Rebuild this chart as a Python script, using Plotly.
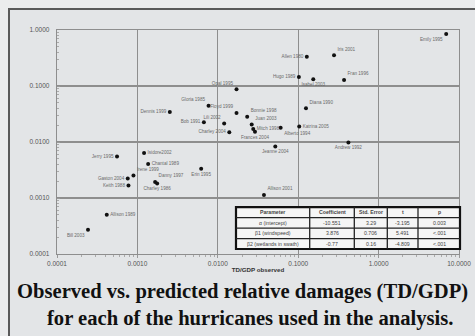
import plotly.graph_objects as go

# ---------------- data ----------------
names = ["Emily 1995", "Allen 1980", "Iris 2001", "Hugo 1989", "Isabel 2003", "Fran 1996",
         "Opal 1995", "Gloria 1985", "Dennis 1999", "Floyd 1999", "Bonnie 1998", "Bob 1991",
         "Lili 2002", "Charley 2004", "Juan 2003", "Mitch 1998", "Frances 2004", "Alberto 1994",
         "Diana 1990", "Katrina 2005", "Andrew 1992", "Jeanne 2004", "Allison 2001", "Erin 1995",
         "Jerry 1995", "Isidore2002", "Chantal 1989", "Irene 1999", "Gaston 2004", "Keith 1988",
         "Danny 1997", "Charley 1986", "Allison 1989", "Bill 2003"]
observed = [6.93, 0.128, 0.279, 0.102, 0.154, 0.372,
            0.0171, 0.00767, 0.00253, 0.0171, 0.0232, 0.00671,
            0.0120, 0.0139, 0.0264, 0.0276, 0.0290, 0.0605,
            0.125, 0.103, 0.421, 0.0519, 0.0375, 0.00621,
            0.000558, 0.00121, 0.00136, 0.000893, 0.000758, 0.000774,
            0.00166, 0.00176, 0.000416, 0.000243]
predicted = [0.849, 0.334, 0.354, 0.145, 0.132, 0.128,
             0.0877, 0.0442, 0.0345, 0.0331, 0.0281, 0.0226,
             0.0214, 0.0150, 0.0205, 0.0170, 0.0152, 0.0179,
             0.0402, 0.0189, 0.0098, 0.0083, 0.00113, 0.00333,
             0.00552, 0.00634, 0.00404, 0.00253, 0.00224, 0.00168,
             0.00193, 0.00182, 0.000504, 0.000272]
label_pos = ["bottom left", "middle left", "top right", "middle left", "bottom center", "top right",
             "top left", "top left", "middle left", "top left", "top right", "middle left",
             "top left", "middle left", "top right", "middle right", "bottom center", "bottom right",
             "top right", "middle right", "bottom center", "bottom center", "top right", "bottom center",
             "middle left", "middle right", "middle right", "top right", "middle left", "middle left",
             "top right", "bottom center", "middle right", "bottom left"]

tick_vals = [0.0001, 0.001, 0.01, 0.1, 1, 10]
x_tick_text = ["0.0001", "0.0010", "0.0100", "0.1000", "1.0000", "10.0000"]
y_tick_vals = [0.0001, 0.001, 0.01, 0.1, 1]
y_tick_text = ["0.0001", "0.0010", "0.0100", "0.1000", "1.0000"]

table_header = ["Parameter", "Coefficient", "Std. Error", "t", "p"]
table_params = ["α (intercept)", "β1 (windspeed)", "β2 (wetlands in swath)"]
table_coef = ["-10.551", "3.876", "-0.77"]
table_se = ["3.29", "0.706", "0.16"]
table_t = ["-3.195", "5.491", "-4.809"]
table_p = ["0.003", "<.001", "<.001"]

caption1 = "Observed vs. predicted relative damages (TD/GDP)"
caption2 = "for each of the hurricanes used in the analysis."

# ---------------- geometry helpers (pixels -> paper) ----------------
W, H = 475, 336
PL, PR, PT, PB = 57, 459, 30, 254.5


def px(x):
    return (x - PL) / (PR - PL)


def py(y):
    return (PB - y) / (PB - PT)


fig = go.Figure()
fig.add_trace(go.Scatter(
    x=observed, y=predicted, mode="markers+text", text=names,
    textposition=label_pos,
    textfont=dict(size=4.6, color="#6a6a6a", family="Arial, Liberation Sans, sans-serif"),
    marker=dict(size=4, color="#111111"),
    cliponaxis=False, showlegend=False, hoverinfo="skip",
))

grid_col = "#8e8e8e"
fig.update_xaxes(type="log", range=[-4, 1], tickvals=tick_vals, ticktext=x_tick_text,
                 automargin=False,
                 showgrid=True, gridcolor=grid_col, gridwidth=1.3,
                 showline=True, linecolor=grid_col, linewidth=1.3, mirror=True,
                 ticks="outside", ticklen=3, tickcolor="#999999",
                 minor=dict(ticks="outside", ticklen=2, tickcolor="#aaaaaa", dtick="D1", showgrid=False),
                 tickfont=dict(size=6.5, color="#555555", family="Arial, Liberation Sans, sans-serif"),
                 zeroline=False,
                 title=dict(text="<b>TD/GDP observed</b>", standoff=1,
                            font=dict(size=6.2, color="#333333", family="Arial, Liberation Sans, sans-serif")))
fig.update_yaxes(type="log", range=[-4, 0], tickvals=y_tick_vals, ticktext=y_tick_text,
                 automargin=False,
                 showgrid=True, gridcolor=grid_col, gridwidth=1.3,
                 showline=True, linecolor=grid_col, linewidth=1.3, mirror=True,
                 ticks="inside", ticklen=3, tickcolor="#999999",
                 minor=dict(ticks="inside", ticklen=2, tickcolor="#aaaaaa", dtick="D1", showgrid=False),
                 tickfont=dict(size=6.5, color="#555555", family="Arial, Liberation Sans, sans-serif"),
                 ticklabelstandoff=5,
                 zeroline=False)

shapes = []
# outer frame
shapes.append(dict(type="rect", xref="paper", yref="paper", layer="below",
                   x0=px(9), x1=px(490), y0=py(350), y1=py(9),
                   fillcolor="#e3e5e7", line=dict(color="#5a5a5a", width=2)))

# table
tx = [236, 309.7, 354.3, 387.3, 418, 460]
ty = [207.5, 218, 228.5, 239, 249.5]
shapes.append(dict(type="rect", xref="paper", yref="paper", x0=px(tx[0]), x1=px(tx[-1]),
                   y0=py(ty[-1]), y1=py(ty[0]), fillcolor="#f5f5f5", line=dict(color="#111111", width=2.2)))
for xv in tx[1:-1]:
    shapes.append(dict(type="line", xref="paper", yref="paper", x0=px(xv), x1=px(xv),
                       y0=py(ty[-1]), y1=py(ty[0]), line=dict(color="#222222", width=1.3)))
for yv in ty[1:-1]:
    shapes.append(dict(type="line", xref="paper", yref="paper", x0=px(tx[0]), x1=px(tx[-1]),
                       y0=py(yv), y1=py(yv), line=dict(color="#222222", width=1.3)))

annotations = []
tfont = dict(size=5.2, color="#444444", family="Arial, Liberation Sans, sans-serif")
rows = [table_header] + [[table_params[i], table_coef[i], table_se[i], table_t[i], table_p[i]]
                         for i in range(len(table_params))]
for r, row in enumerate(rows):
    for c, val in enumerate(row):
        txt = "<b>%s</b>" % val if r == 0 else val
        annotations.append(dict(xref="paper", yref="paper", x=px((tx[c] + tx[c + 1]) / 2),
                                y=py((ty[r] + ty[r + 1]) / 2), text=txt, showarrow=False,
                                font=tfont, xanchor="center", yanchor="middle"))

cfont = dict(size=20.6, color="#111111", family="Liberation Serif, Times New Roman, serif")
annotations.append(dict(xref="paper", yref="paper", x=px(242), y=py(292), text="<b>%s</b>" % caption1,
                        showarrow=False, font=cfont, xanchor="center", yanchor="middle"))
annotations.append(dict(xref="paper", yref="paper", x=px(250), y=py(319), text="<b>%s</b>" % caption2,
                        showarrow=False, font=cfont, xanchor="center", yanchor="middle"))

fig.update_layout(
    width=W, height=H,
    margin=dict(l=PL, r=W - PR, t=PT, b=H - PB, pad=0),
    paper_bgcolor="#ebeced", plot_bgcolor="rgba(0,0,0,0)",
    shapes=shapes, annotations=annotations,
)

fig.write_html("out.html", config={"displayModeBar": False, "staticPlot": True},
               post_script="document.body.style.margin='0';document.body.style.padding='0';"
                           "document.body.style.overflow='hidden';document.body.style.background='#ebeced';")
